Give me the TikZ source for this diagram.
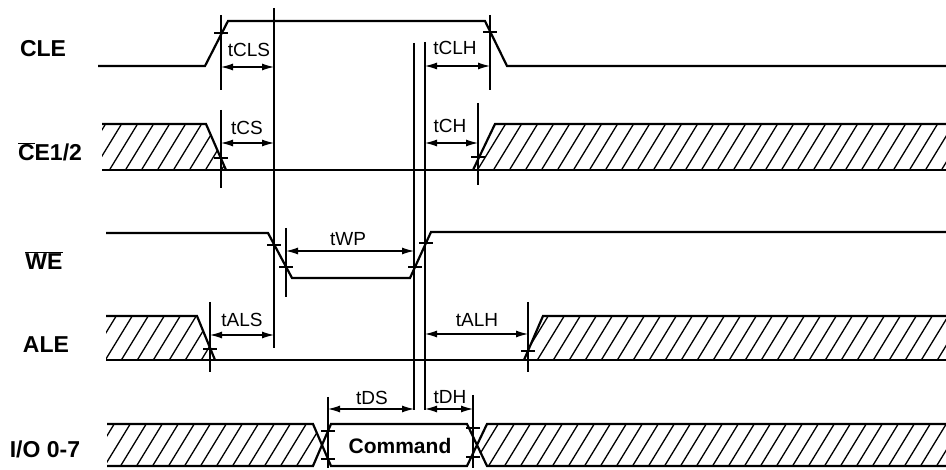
\documentclass[tikz,border=0pt]{standalone}
\usepackage{fontspec}
\setmainfont{Liberation Sans}
\usetikzlibrary{arrows.meta}
\tikzset{
  sig/.style={line width=2.2pt, line join=miter},
  dimv/.style={line width=1.1pt},
  dima/.style={line width=1.1pt, {Latex[length=12pt,width=7pt]}-{Latex[length=12pt,width=7pt]}},
  tickmark/.style={line width=1.1pt},
  hatchline/.style={line width=1.3pt},
  signame/.style={font=\bfseries\fontsize{23}{26}\selectfont, inner sep=0pt},
  dimlabel/.style={font=\fontsize{19}{22}\selectfont, inner sep=0pt},
}
\newcommand{\hatchfill}[1]{%
  \begin{scope}
    \clip #1;
    \foreach \i in {-400,-384,...,960} \draw[hatchline] (\i,480) -- ++(330,-540);
  \end{scope}}
\newcommand{\tickat}[2]{\draw[tickmark] (#1-7,#2) -- (#1+7,#2);}
\begin{document}
\begin{tikzpicture}[x=1pt,y=-1pt]
\useasboundingbox (0,0) rectangle (946,470);
\fill[white] (0,0) rectangle (946,470);

% signal names
\node[signame] (ncle) at (43,49) {CLE};
\node[signame] (nce) at (50,152) {$\overline{\hbox{C}}$E1/2};
\node[signame] (nwe) at (44,261) {$\overline{\hbox{WE}}$};
\node[signame] (nale) at (46,345) {ALE};
\node[signame] (nio) at (45,449) {I/O 0-7};

% CLE
\draw[sig] (98,66) -- (205,66) -- (228,21) -- (485,21) -- (507,66) -- (946,66);

% CE
\hatchfill{(102,124) -- (206,124) -- (226,170) -- (102,170) -- cycle}
\hatchfill{(473,170) -- (495,124) -- (946,124) -- (946,170) -- cycle}
\draw[sig] (102,124) -- (206,124) -- (226,170);
\draw[sig] (102,170) -- (946,170);
\draw[sig] (473,170) -- (495,124) -- (946,124);

% WE
\draw[sig] (106,233) -- (268,233) -- (292,278) -- (410,278) -- (431,232) -- (946,232);

% ALE
\hatchfill{(106,316) -- (197,316) -- (215,360) -- (106,360) -- cycle}
\hatchfill{(524,360) -- (543,316) -- (946,316) -- (946,360) -- cycle}
\draw[sig] (106,316) -- (197,316) -- (215,360);
\draw[sig] (106,360) -- (946,360);
\draw[sig] (524,360) -- (543,316) -- (946,316);

% I/O
\hatchfill{(107,424) -- (313,424) -- (322,445) -- (313,466) -- (107,466) -- cycle}
\hatchfill{(477,445) -- (487,424) -- (946,424) -- (946,466) -- (487,466) -- cycle}
\draw[sig] (107,424) -- (313,424) -- (331,466) -- (467,466) -- (487,424) -- (946,424);
\draw[sig] (107,466) -- (313,466) -- (331,424) -- (467,424) -- (487,466) -- (946,466);
\node[font=\bfseries\fontsize{21}{24}\selectfont, inner sep=0pt] (cmd) at (400,446) {Command};

% vertical reference lines
\draw[dimv] (221,15) -- (221,90);
\draw[dimv] (221,110) -- (221,188);
\draw[dimv] (274,8) -- (274,348);
\draw[dimv] (414,43) -- (414,410);
\draw[dimv] (425,42) -- (425,410);
\draw[dimv] (490,15) -- (490,90);
\draw[dimv] (478,103) -- (478,185);
\draw[dimv] (286,228) -- (286,297);
\draw[dimv] (210,302) -- (210,372);
\draw[dimv] (528,302) -- (528,372);
\draw[dimv] (328,397) -- (328,468);
\draw[dimv] (473,395) -- (473,468);

% ticks
\tickat{221}{33}
\tickat{490}{32}
\tickat{221}{158}
\tickat{478}{157}
\tickat{274}{245}
\tickat{286}{267}
\tickat{415}{267}
\tickat{426}{243}
\tickat{210}{349}
\tickat{528}{351}
\tickat{328}{431}
\tickat{328}{459}
\tickat{473}{428}
\tickat{473}{457}

% dimension arrows and labels
\draw[dima] (221,67) -- (274,67);
\node[dimlabel] (ltcls) at (249,50) {tCLS};
\draw[dima] (221,143) -- (274,143);
\node[dimlabel] (ltcs) at (247,128) {tCS};
\draw[dima] (425,66) -- (490,66);
\node[dimlabel] (ltclh) at (455,48) {tCLH};
\draw[dima] (425,143) -- (478,143);
\node[dimlabel] (ltch) at (450,126) {tCH};
\draw[dima] (286,251) -- (414,251);
\node[dimlabel] (ltwp) at (348,239) {tWP};
\draw[dima] (210,335) -- (274,335);
\node[dimlabel] (ltals) at (242,320) {tALS};
\draw[dima] (425,334) -- (528,334);
\node[dimlabel] (ltalh) at (477,320) {tALH};
\draw[dima] (328,409) -- (414,409);
\node[dimlabel] (ltds) at (372,398) {tDS};
\draw[dima] (425,409) -- (473,409);
\node[dimlabel] (ltdh) at (450,397) {tDH};
\end{tikzpicture}
\end{document}
